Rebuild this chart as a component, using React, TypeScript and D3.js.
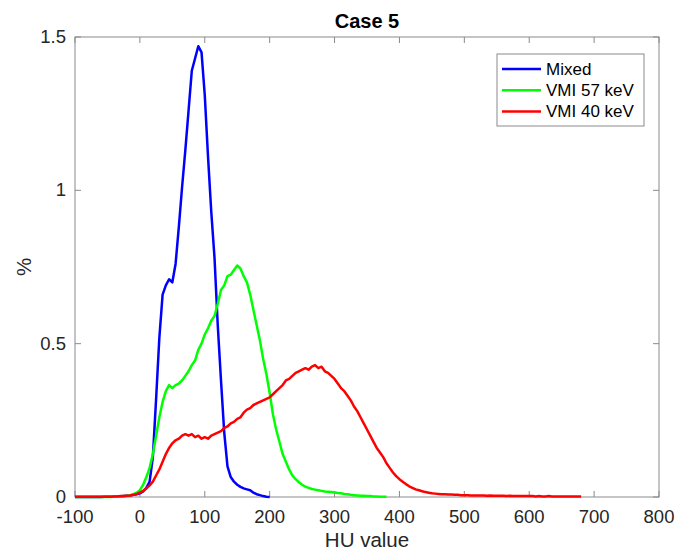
import React from "react";
import * as d3 from "d3";

const xTicks = [-100, 0, 100, 200, 300, 400, 500, 600, 700, 800];
const yTicks = [0, 0.5, 1, 1.5];
const yTickLabels = ["0", "0.5", "1", "1.5"];
const seriesNames = ["Mixed", "VMI 57 keV", "VMI 40 keV"];
const seriesColors = ["#0000ff", "#00ff00", "#ff0000"];
const binStep = 5;
const binStart = -100;

// Mixed: HU -100 .. 200, step 5
const mixed = [
  0, 0, 0, 0, 0, 0, 0, 0, 0,
  0.001, 0.001, 0.001, 0.001, 0.002, 0.002, 0.003, 0.004, 0.005, 0.007, 0.009,
  0.012, 0.018, 0.03, 0.05, 0.13, 0.32, 0.52, 0.66, 0.69, 0.71, 0.7, 0.76, 0.88, 1.01, 1.13, 1.26, 1.39, 1.43,
  1.47, 1.45, 1.31, 1.11, 0.93, 0.78, 0.56, 0.38, 0.21, 0.1, 0.065, 0.05, 0.04, 0.033, 0.028, 0.025, 0.022,
  0.014, 0.009, 0.006, 0.003, 0.001, 0,
];

// VMI 57 keV: HU -100 .. 380, step 5
const vmi57 = [
  0, 0, 0, 0, 0, 0, 0, 0, 0, 0, 0, 0,
  0.001, 0.001, 0.002, 0.003, 0.004, 0.006, 0.009, 0.014, 0.022, 0.04, 0.065, 0.095, 0.14, 0.2, 0.26, 0.31,
  0.345, 0.365, 0.355, 0.365, 0.37, 0.38, 0.395, 0.41, 0.43, 0.445, 0.48, 0.5, 0.53, 0.55, 0.575, 0.59, 0.63,
  0.675, 0.69, 0.72, 0.725, 0.74, 0.755, 0.745, 0.72, 0.7, 0.66, 0.61, 0.56, 0.51, 0.45, 0.4, 0.34, 0.27,
  0.22, 0.18, 0.14, 0.115, 0.09, 0.07, 0.058, 0.048, 0.04, 0.034, 0.03, 0.026, 0.024, 0.022, 0.02, 0.018,
  0.017, 0.016, 0.015, 0.013, 0.012, 0.01, 0.009, 0.007, 0.006, 0.005, 0.004, 0.004, 0.003, 0.003, 0.002,
  0.002, 0.001, 0.001, 0.001,
];

// VMI 40 keV: HU -100 .. 680, step 5
const vmi40 = [
  0.001, 0.001, 0.001, 0.001, 0.001, 0.001, 0.001, 0.001, 0.001, 0.001, 0.001,
  0.001, 0.002, 0.002, 0.003, 0.003, 0.004, 0.005, 0.007, 0.01, 0.014, 0.02, 0.028, 0.038, 0.05, 0.07,
  0.09, 0.115, 0.14, 0.16, 0.175, 0.185, 0.19, 0.2, 0.205, 0.2, 0.205, 0.195, 0.2, 0.19, 0.195, 0.19, 0.2,
  0.205, 0.21, 0.215, 0.225, 0.23, 0.24, 0.245, 0.255, 0.26, 0.275, 0.285, 0.29, 0.3, 0.305, 0.31, 0.315,
  0.32, 0.325, 0.335, 0.345, 0.355, 0.365, 0.38, 0.385, 0.395, 0.405, 0.41, 0.415, 0.42, 0.415, 0.425,
  0.43, 0.42, 0.425, 0.41, 0.405, 0.395, 0.385, 0.37, 0.355, 0.345, 0.33, 0.315, 0.295, 0.28, 0.26, 0.24,
  0.22, 0.2, 0.18, 0.16, 0.145, 0.13, 0.11, 0.095, 0.08, 0.068, 0.058, 0.05, 0.042, 0.035, 0.03, 0.025,
  0.022, 0.019, 0.016, 0.014, 0.012, 0.011, 0.01, 0.009, 0.009, 0.008, 0.008, 0.007, 0.007, 0.006, 0.006,
  0.006, 0.005, 0.005, 0.005, 0.005, 0.005, 0.004, 0.005, 0.004, 0.004,
  0.004, 0.004, 0.003, 0.004, 0.003, 0.003, 0.003, 0.003, 0.003, 0.003,
  0.003, 0.002, 0.003, 0.002, 0.002, 0.003, 0.002, 0.002, 0.002, 0.002, 0.002, 0.002, 0.002, 0.002, 0.002, 0.002,
];

const allSeries = [mixed, vmi57, vmi40];

const W = 674;
const H = 552;
const L = 75;
const R = 659;
const T = 37;
const B = 497;
const font = "'Liberation Sans', Arial, Helvetica, sans-serif";
const axisColor = "#8a8a8a";
const textColor = "#262626";

export default function App() {
  const x = d3.scaleLinear().domain([-100, 800]).range([L, R]);
  const y = d3.scaleLinear().domain([0, 1.5]).range([B, T]);
  const line = d3
    .line<number>()
    .x((_, i) => x(binStart + i * binStep))
    .y((d) => y(d));

  return (
    <svg width={W} height={H} style={{ position: "absolute", left: 0, top: 0, background: "#fff" }}>
      <rect x={0} y={0} width={W} height={H} fill="#fff" />
      {/* axes box */}
      <rect x={L} y={T} width={R - L} height={B - T} fill="none" stroke={axisColor} strokeWidth={1} />
      {xTicks.map((t) => (
        <g key={"xt" + t}>
          <line x1={x(t)} x2={x(t)} y1={B} y2={B - 6} stroke={axisColor} />
          <line x1={x(t)} x2={x(t)} y1={T} y2={T + 6} stroke={axisColor} />
          <text x={x(t)} y={B + 26} textAnchor="middle" fontFamily={font} fontSize={18.5} fill={textColor}>
            {t}
          </text>
        </g>
      ))}
      {yTicks.map((t, i) => (
        <g key={"yt" + t}>
          <line x1={L} x2={L + 6} y1={y(t)} y2={y(t)} stroke={axisColor} />
          <line x1={R} x2={R - 6} y1={y(t)} y2={y(t)} stroke={axisColor} />
          <text x={L - 9} y={y(t) + 6} textAnchor="end" fontFamily={font} fontSize={18.5} fill={textColor}>
            {yTickLabels[i]}
          </text>
        </g>
      ))}
      {/* series */}
      {allSeries.map((s, i) => (
        <path key={"s" + i} d={line(s) || ""} fill="none" stroke={seriesColors[i]} strokeWidth={2.5} strokeLinejoin="round" />
      ))}
      {/* labels */}
      <text x={(L + R) / 2} y={28} textAnchor="middle" fontFamily={font} fontSize={20} fontWeight="bold" fill="#000">
        Case 5
      </text>
      <text x={(L + R) / 2} y={547} textAnchor="middle" fontFamily={font} fontSize={20.5} fill={textColor}>
        HU value
      </text>
      <text
        transform={`translate(31, ${(T + B) / 2}) rotate(-90)`}
        textAnchor="middle"
        fontFamily={font}
        fontSize={20.5}
        fill={textColor}
      >
        %
      </text>
      {/* legend */}
      <rect x={497} y={54} width={147} height={72} fill="#fff" stroke={axisColor} strokeWidth={1} />
      {seriesNames.map((n, i) => (
        <g key={"lg" + n}>
          <line x1={502} x2={541} y1={69 + i * 21.2} y2={69 + i * 21.2} stroke={seriesColors[i]} strokeWidth={2.5} />
          <text x={546} y={69 + i * 21.2 + 6} fontFamily={font} fontSize={17} fill="#000">
            {n}
          </text>
        </g>
      ))}
    </svg>
  );
}
